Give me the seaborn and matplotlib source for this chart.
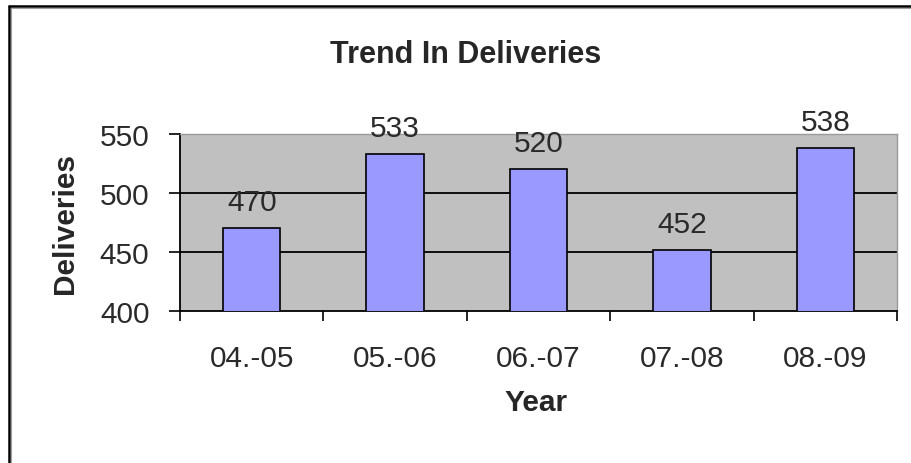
import numpy as np
import pandas as pd
import seaborn as sns
import matplotlib.pyplot as plt
from matplotlib.lines import Line2D

years = ['04.-05', '05.-06', '06.-07', '07.-08', '08.-09']
deliveries = [470, 533, 520, 452, 538]

df = pd.DataFrame({'Year': years, 'Deliveries': deliveries})

sns.set_style('white')
plt.rcParams['font.family'] = ['Liberation Sans', 'DejaVu Sans']

W, H = 911, 464
fig = plt.figure(figsize=(W / 100, H / 100), dpi=100)
ax = fig.add_axes([180 / W, 1 - 312 / H, (897 - 180) / W, (312 - 135) / H])
ax.set_facecolor('#C0C0C0')

sns.barplot(data=df, x='Year', y='Deliveries', color='#9999FF', width=0.4,
            edgecolor='black', linewidth=1.2, saturation=1, ax=ax, zorder=3)

ax.set_ylim(400, 550)
ax.set_xlim(-0.5, 4.5)
ax.set_yticks([400, 450, 500, 550])
for v in [450, 500]:
    ax.axhline(v, color='black', lw=1.3, zorder=1)

# value labels above bars
for i, v in enumerate(deliveries):
    ax.annotate(str(v), (i, v), xytext=(0, 13), textcoords='offset points',
                ha='center', va='baseline', fontsize=21.5, color='#2a2a2a',
                annotation_clip=False)

# category boundary ticks
ax.set_xticks(np.arange(-0.5, 5, 1), minor=True)
ax.tick_params(axis='x', which='major', length=0, pad=24, labelsize=21.5,
               labelcolor='#2a2a2a')
ax.tick_params(axis='x', which='minor', length=7, width=1.2, direction='out',
               color='black', bottom=True)
ax.tick_params(axis='y', length=8, width=1.2, direction='out', color='black',
               left=True, pad=14, labelsize=21.5, labelcolor='#2a2a2a')

for s in ['left', 'bottom']:
    ax.spines[s].set_color('black')
    ax.spines[s].set_linewidth(1.3)
for s in ['top', 'right']:
    ax.spines[s].set_color('#9A9A9A')
    ax.spines[s].set_linewidth(1.0)

ax.set_xlabel('')
ax.set_ylabel('')
fig.text(466 / W, 1 - 55 / H, 'Trend In Deliveries', ha='center', va='center',
         fontsize=22, fontweight='bold')
fig.text(536 / W, 1 - 403 / H, 'Year', ha='center', va='center',
         fontsize=21.5, fontweight='bold')
fig.text(65 / W, 1 - 223 / H, 'Deliveries', ha='center', va='center',
         fontsize=21.5, fontweight='bold', rotation=90)

# chart area border (left and top edges visible)
fig.add_artist(Line2D([8.5 / W, 8.5 / W], [0, 1 - 6.5 / H], color='black', lw=1.8,
                      transform=fig.transFigure))
fig.add_artist(Line2D([8.5 / W, 1], [1 - 6.5 / H, 1 - 6.5 / H], color='black', lw=1.8,
                      transform=fig.transFigure))
fig.add_artist(Line2D([10.5 / W, 10.5 / W], [0, 1 - 8.5 / H], color='#A0A0A0', lw=0.8,
                      transform=fig.transFigure))
fig.add_artist(Line2D([10.5 / W, 1], [1 - 8.5 / H, 1 - 8.5 / H], color='#A0A0A0', lw=0.8,
                      transform=fig.transFigure))

fig.savefig('out.png', dpi=100)
